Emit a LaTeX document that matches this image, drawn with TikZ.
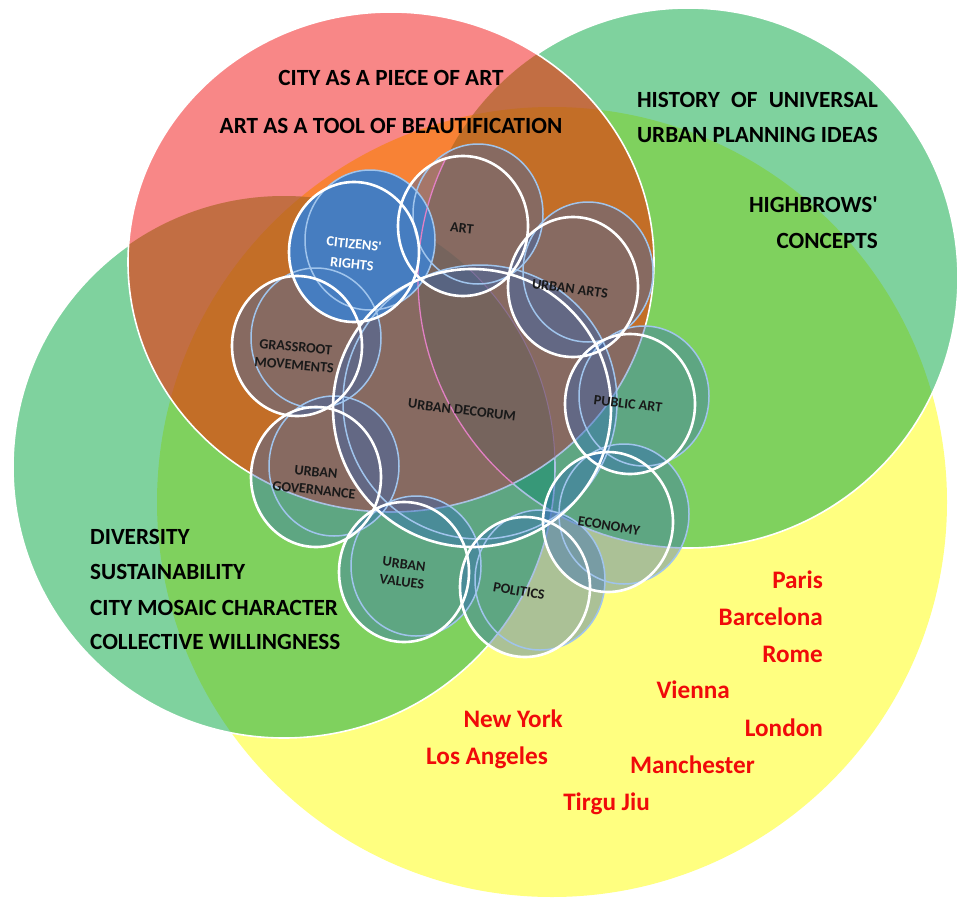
\documentclass[tikz,border=0pt]{standalone}
\usepackage{fontspec}
\setmainfont{Carlito}
\usetikzlibrary{shapes,positioning,calc}

\definecolor{sunyellow}{RGB}{255,255,128}
\definecolor{leafgreen}{RGB}{0,165,62}
\definecolor{rosered}{RGB}{240,0,0}
\definecolor{ember}{RGB}{255,110,0}
\definecolor{bubbleblue}{RGB}{45,102,185}
\definecolor{rimblue}{RGB}{160,196,236}
\definecolor{rightsblue}{RGB}{70,125,192}
\definecolor{cityred}{RGB}{240,10,10}
\definecolor{seamrose}{RGB}{226,128,196}
\definecolor{seamviolet}{RGB}{150,118,175}

\newlength{\planwidth}

\begin{document}
\begin{tikzpicture}[x=1pt,y=-1pt,
  every node/.style={inner sep=0pt},
  artset/.style={x radius=263pt, y radius=250pt},
  bub/.style={x radius=65pt, y radius=70pt},
  pad/.style={fill=bubbleblue, fill opacity=0.4},
  rim/.style={draw=rimblue, line width=1.5pt},
  ring/.style={draw=white, line width=2.6pt},
  edge/.style={draw=white, line width=1.6pt},
  lab/.style={font=\bfseries\fontsize{14.2}{18}\selectfont, align=center, text=black!90},
  theme/.style={font=\bfseries\fontsize{23.2}{27}\selectfont, text=black},
  city/.style={font=\bfseries\fontsize{25.2}{29}\selectfont, text=cityred}]

\useasboundingbox (0,0) rectangle (958,899);

% large sets
\fill[sunyellow] (552,502) circle [radius=395pt];
\fill[leafgreen, fill opacity=0.5] (284,467) circle [radius=271pt];
\fill[leafgreen, fill opacity=0.5] (688,278) circle [radius=270pt];
\begin{scope}[even odd rule]
  \clip (0,0) rectangle (958,899) (391,262) ellipse [artset];
  \draw[edge] (284,467) circle [radius=271pt];
  \draw[edge] (688,278) circle [radius=270pt];
\end{scope}
\fill[rosered, fill opacity=0.47] (391,262) ellipse [artset];
\begin{scope}
  \clip (391,262) ellipse [artset];
  \fill[ember, fill opacity=0.2] (552,502) circle [radius=395pt]
    (284,467) circle [radius=271pt] (688,278) circle [radius=270pt];
\end{scope}
\draw[edge] (391,262) ellipse [artset];

% bubble fills
\fill[pad] (472,408) circle [radius=139pt] (480,402) circle [radius=137pt];
\fill[pad] (463,226) ellipse [bub] (478,214) ellipse [bub];
\fill[pad] (573,287) ellipse [bub] (588,272) ellipse [bub];
\fill[pad] (630,404) ellipse [bub] (644,396) ellipse [bub];
\fill[pad] (608,522) ellipse [bub] (624,514) ellipse [bub];
\fill[pad] (525,587) ellipse [bub] (540,580) ellipse [bub];
\fill[pad] (404,572) ellipse [bub] (416,566) ellipse [bub];
\fill[pad] (316,477) ellipse [bub] (334,466) ellipse [bub];
\fill[pad] (297,346) ellipse [bub] (316,338) ellipse [bub];
\fill[rightsblue] (354,252) ellipse [bub] (370,240) ellipse [bub];

\begin{scope}
  \clip (391,262) ellipse [artset];
  \clip (472,408) circle [radius=139pt];
  \draw[seamrose, line width=1.3pt] (688,278) circle [radius=270pt];
  \draw[seamviolet, line width=1pt, opacity=0.6] (284,467) circle [radius=271pt];
\end{scope}
\begin{scope}
  \clip (391,262) ellipse [artset];
  \clip (463,226) ellipse [bub];
  \draw[seamrose, line width=1.3pt] (688,278) circle [radius=270pt];
\end{scope}

% rims and white outlines
\draw[rim] (480,402) circle [radius=137pt];
\draw[rim] (478,214) ellipse [bub];
\draw[rim] (588,272) ellipse [bub];
\draw[rim] (644,396) ellipse [bub];
\draw[rim] (624,514) ellipse [bub];
\draw[rim] (540,580) ellipse [bub];
\draw[rim] (416,566) ellipse [bub];
\draw[rim] (334,466) ellipse [bub];
\draw[rim] (316,338) ellipse [bub];
\draw[rim] (370,240) ellipse [bub];

\draw[ring] (472,408) circle [radius=139pt];
\draw[ring] (463,226) ellipse [bub];
\draw[ring] (573,287) ellipse [bub];
\draw[ring] (630,404) ellipse [bub];
\draw[ring] (608,522) ellipse [bub];
\draw[ring] (525,587) ellipse [bub];
\draw[ring] (404,572) ellipse [bub];
\draw[ring] (316,477) ellipse [bub];
\draw[ring] (297,346) ellipse [bub];
\draw[ring] (354,252) ellipse [bub];

% bubble labels
\node[lab, rotate=-6, text=white, font=\bfseries\fontsize{14.2}{20}\selectfont] (rights) at (353,254) {CITIZENS\textquotesingle\\RIGHTS};
\node[lab, rotate=-6] (art) at (462,228) {ART};
\node[lab, rotate=-8] (urbanarts) at (570,289) {URBAN ARTS};
\node[lab, rotate=-5] (grassroot) at (295,356) {GRASSROOT\\MOVEMENTS};
\node[lab, rotate=-7] (decorum) at (462,410) {URBAN DECORUM};
\node[lab, rotate=-7] (publicart) at (628,404) {PUBLIC ART};
\node[lab, rotate=-6] (governance) at (315,481) {URBAN\\GOVERNANCE};
\node[lab, rotate=-9] (economy) at (609,526) {ECONOMY};
\node[lab, rotate=-7] (values) at (403,573) {URBAN\\VALUES};
\node[lab, rotate=-10] (politics) at (519,591) {POLITICS};

% themes
\node[theme, anchor=base] (cityart) at (391,85) {CITY AS A PIECE OF ART};
\node[theme, anchor=base] (beauty) at (391,133) {ART AS A TOOL OF BEAUTIFICATION};
\node[theme, anchor=base east] (history) at (878,107) {\settowidth{\planwidth}{URBAN PLANNING IDEAS}\makebox[\planwidth][s]{HISTORY OF UNIVERSAL}};
\node[theme, anchor=base east] (ideas) at (878,142) {URBAN PLANNING IDEAS};
\node[theme, anchor=base east] (highbrows) at (878,212) {HIGHBROWS\textquotesingle};
\node[theme, anchor=base east] (concepts) at (878,248) {CONCEPTS};
\node[theme, anchor=base west] (diversity) at (90,544) {DIVERSITY};
\node[theme, anchor=base west] (sustain) at (90,579) {SUSTAINABILITY};
\node[theme, anchor=base west] (mosaic) at (90,615) {CITY MOSAIC CHARACTER};
\node[theme, anchor=base west] (willing) at (90,649) {COLLECTIVE WILLINGNESS};

% cities
\node[city, anchor=base east] (paris) at (823,588) {Paris};
\node[city, anchor=base east] (barcelona) at (823,625) {Barcelona};
\node[city, anchor=base east] (rome) at (823,662) {Rome};
\node[city, anchor=base east] (vienna) at (730,698) {Vienna};
\node[city, anchor=base east] (london) at (823,736) {London};
\node[city, anchor=base east] (manchester) at (755,773) {Manchester};
\node[city, anchor=base east] (tirgu) at (650,810) {Tirgu Jiu};
\node[city, anchor=base east] (newyork) at (563,727) {New York};
\node[city, anchor=base east] (losangeles) at (548,764) {Los Angeles};
\end{tikzpicture}
\end{document}
